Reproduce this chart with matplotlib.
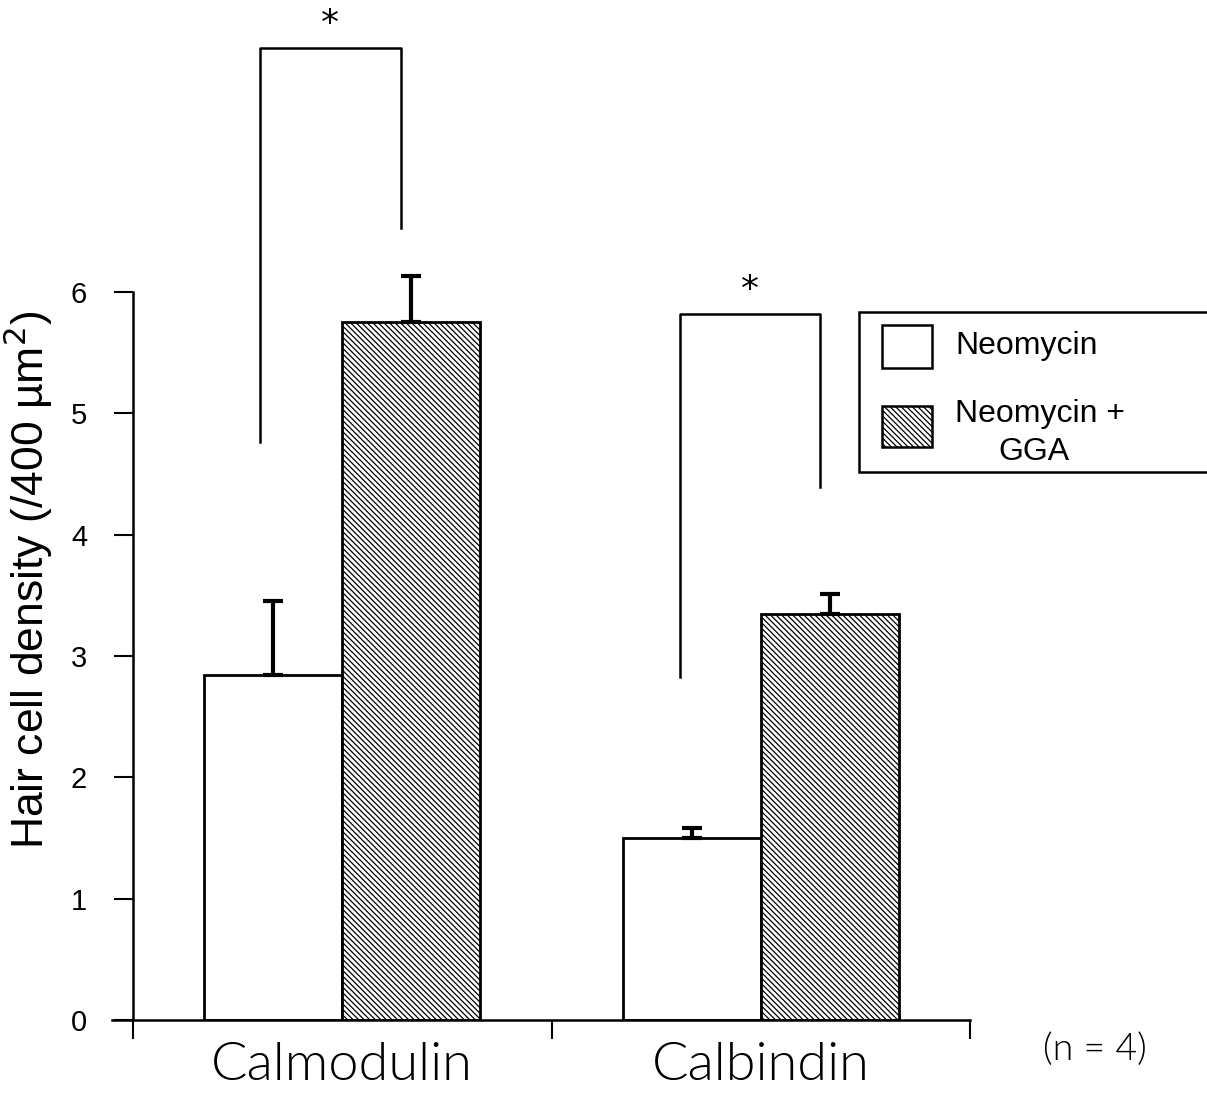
import matplotlib
matplotlib.use("Agg")
import matplotlib.pyplot as plt
from matplotlib.patches import Rectangle

categories = ["Calmodulin", "Calbindin"]
series_names = ["Neomycin", "Neomycin +\n    GGA"]
neomycin = [2.84, 1.50]
neomycin_err = [0.61, 0.08]
neo_gga = [5.75, 3.35]
neo_gga_err = [0.38, 0.16]
yticks = [0, 1, 2, 3, 4, 5, 6]
# significance brackets: (left x, right x, left bottom y, right bottom y, top y)
brackets = [(0.303, 0.640, 4.76, 6.53, 8.01), (1.307, 1.642, 2.83, 4.39, 5.82)]
note = "(n = 4)"

W, H = 1207, 1094
fig = plt.figure(figsize=(W / 100, H / 100), dpi=100)
ax = fig.add_axes([133 / W, (H - 1020) / H, (970 - 133) / W, 1020 / H])
ax.set_xlim(0, 2)
ax.set_ylim(0, 1020 / 121.33)

centers = [0.5, 1.5]
bw = 0.33
x1 = [c - bw / 2 for c in centers]
x2 = [c + bw / 2 for c in centers]
plt.rcParams['hatch.linewidth'] = 0.9
ax.bar(x1, neomycin, width=bw, color="white", edgecolor="black", linewidth=2.0, zorder=2)
ax.bar(x2, neo_gga, width=bw, color="white", edgecolor="black", linewidth=2.0,
       hatch="\\\\\\\\\\\\", zorder=2)
for xs, vals, errs in [(x1, neomycin, neomycin_err), (x2, neo_gga, neo_gga_err)]:
    ax.errorbar(xs, vals, yerr=[[0] * len(errs), errs], fmt="none", ecolor="black",
                elinewidth=3.0, capsize=7, capthick=3.0, zorder=3)

for (xl, xr, yl, yr, yt) in brackets:
    ax.plot([xl, xl, xr, xr], [yl, yt, yt, yr], color="black", lw=1.8, clip_on=False)
    ax.text((xl + xr) / 2, yt + 0.06, "*", ha="center", va="bottom", fontsize=26,
            family="DejaVu Sans")

for s in ["top", "right"]:
    ax.spines[s].set_visible(False)
ax.spines["left"].set_bounds(0, 6)
ax.spines["left"].set_linewidth(1.8)
ax.spines["bottom"].set_linewidth(1.8)
ax.spines["bottom"].set_bounds(-0.05, 2)
ax.set_yticks(yticks)
ax.set_yticklabels([str(v) for v in yticks], fontsize=21, family="Liberation Sans")
ax.tick_params(axis="y", direction="out", length=14, width=1.5, pad=19)
ax.set_xticks([0, 1, 2])
ax.set_xticklabels(["", "", ""])
ax.tick_params(axis="x", direction="out", length=14, width=1.5)
ax.set_ylabel("Hair cell density (/400 µm$^2$)", fontsize=32, family="Liberation Sans")
ax.yaxis.set_label_coords(-0.093, 3.63 / (1020 / 121.33))

for c, name in zip(centers, categories):
    fig.text((133 + c * 418.5) / W, 1 - 1066 / H, name, ha="center", va="center",
             fontsize=39, family="Lato", fontweight=300)
fig.text(1095 / W, 1 - 1050 / H, note, ha="center", va="center", fontsize=27,
         family="Lato", fontweight=300)

# legend box
fig.patches.append(Rectangle((859 / W, 1 - 472 / H), 400 / W, 160 / H, transform=fig.transFigure,
                             facecolor="white", edgecolor="black", lw=1.8))
fig.patches.append(Rectangle((882 / W, 1 - 368 / H), 50 / W, 43 / H, transform=fig.transFigure,
                             facecolor="white", edgecolor="black", lw=1.8))
fig.patches.append(Rectangle((882 / W, 1 - 447 / H), 50 / W, 41 / H, transform=fig.transFigure,
                             facecolor="white", edgecolor="black", lw=1.8, hatch="\\\\\\\\\\\\"))
fig.text(955 / W, 1 - 346 / H, series_names[0], ha="left", va="center", fontsize=23,
         family="Liberation Sans")
fig.text(955 / W, 1 - 414 / H, series_names[1].split("\n")[0], ha="left", va="center",
         fontsize=23, family="Liberation Sans")
fig.text(1034 / W, 1 - 452 / H, series_names[1].split("\n")[1].strip(), ha="center", va="center",
         fontsize=23, family="Liberation Sans")

fig.savefig("out.png", dpi=100)
